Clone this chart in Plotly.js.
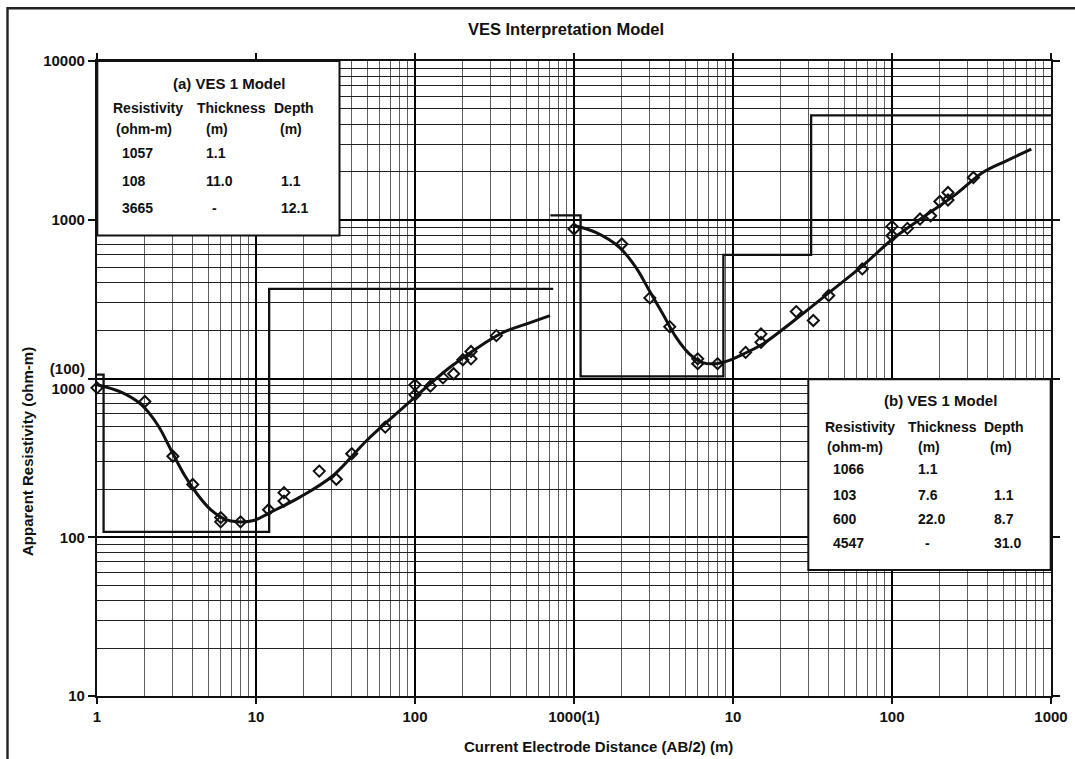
<!DOCTYPE html>
<html>
<head>
<meta charset="utf-8">
<script src="https://cdn.plot.ly/plotly-3.0.1.min.js"></script>
<style>
html,body{margin:0;padding:0;background:#fff;}
#chart{width:1075px;height:759px;}
</style>
</head>
<body>
<div id="chart"></div>
<script>
// ---------------- Data ----------------
// Axis tick labels (composite of two panels)
const xTickVals = [1, 10, 100, 1000, 10000, 100000, 1000000];
const xTickText = ['1', '10', '100', '1000(1)', '10', '100', '1000'];
const yTickVals = [10, 100, 1000, 10000, 100000];
const yTickText = ['10', '100', '(100)<br>1000', '1000', '10000'];

// (a) VES 1 - field data (AB/2 in m, apparent resistivity in ohm-m)
const abA  = [1, 2, 3, 4, 6, 6, 8, 12, 15, 15, 25, 32, 40, 65, 100, 100, 125, 150, 175, 200, 225, 225, 325];
const rhoA = [873, 716, 324, 215, 133, 125, 125, 149, 191, 169, 261, 232, 336, 494, 912, 789, 895, 1009, 1072, 1313, 1479, 1330, 1862];
// (a) fitted curve
const curveAx = [1, 1.42, 1.9, 2.42, 2.93, 3.56, 4.32, 5.23, 6.36, 7.7, 9.81, 11.9, 18.9, 30.6, 49.7, 80.5, 102.5, 166, 269, 359, 504, 706];
const curveAy = [915, 820, 684, 506, 352, 245, 184, 148, 130, 125, 128, 141, 179, 245, 407, 629, 781, 1178, 1652, 1954, 2209, 2489];
// (a) layered model
const modelAres = [1057, 108, 3665];
const modelAbound = [1.1, 12.1];
const modelAstart = 1, modelAend = 740;
const tableAres = ['1057', '108', '3665'];
const tableAthk = ['1.1', '11.0', '-'];
const tableAdep = ['', '1.1', '12.1'];

// (b) VES 1 - field data
const abB  = [1, 2, 3, 4, 6, 6, 8, 12, 15, 15, 25, 32, 40, 65, 100, 100, 125, 150, 175, 200, 225, 225, 325];
const rhoB = [874, 703, 322, 212, 133, 124, 124, 146, 191, 169, 264, 232, 333, 490, 908, 793, 882, 1010, 1059, 1303, 1485, 1331, 1846];
// (b) fitted curve
const curveBx = [1, 1.37, 1.93, 2.45, 2.98, 3.62, 4.38, 5.31, 6.44, 7.82, 9.48, 11.5, 15.4, 24.9, 40.4, 65.5, 101, 156, 253, 372, 524, 752];
const curveBy = [920, 832, 670, 501, 357, 255, 182, 143, 126, 124, 130, 142, 165, 237, 349, 514, 756, 1034, 1451, 1984, 2350, 2785];
// (b) layered model
const modelBres = [1066, 103, 600, 4547];
const modelBbound = [1.1, 8.7, 31.0];
const modelBstart = 0.71, modelBend = 1000;
const tableBres = ['1066', '103', '600', '4547'];
const tableBthk = ['1.1', '7.6', '22.0', '-'];
const tableBdep = ['', '1.1', '8.7', '31.0'];

// ---------------- Helpers ----------------
function stepLine(res, bounds, start, end) {
  const xs = [start], ys = [res[0]];
  for (let i = 0; i < bounds.length; i++) {
    xs.push(bounds[i], bounds[i]);
    ys.push(res[i], res[i + 1]);
  }
  xs.push(end); ys.push(res[res.length - 1]);
  return {x: xs, y: ys};
}
function minorVals(lo, hi) {
  const v = [];
  for (let k = lo; k < hi; k++) for (let d = 2; d <= 9; d++) v.push(d * Math.pow(10, k));
  return v;
}

const FONT = 'Liberation Sans, Arial, sans-serif';
const INK = '#111';
// plot area in pixels: x 97..1051, y 61..696
const PX = px => (px - 97) / 954;
const PY = py => (696 - py) / 635;

function txt(text, px, py, size) {
  return {text: text, x: PX(px), y: PY(py), xref: 'paper', yref: 'paper',
          xanchor: 'left', yanchor: 'middle', showarrow: false,
          font: {family: FONT, size: size, color: INK, weight: 'bold'}};
}

const stepA = stepLine(modelAres, modelAbound, modelAstart, modelAend);
const stepB = stepLine(modelBres, modelBbound, modelBstart, modelBend);

const traces = [
  {x: stepA.x, y: stepA.y, xaxis: 'x', yaxis: 'y', mode: 'lines',
   line: {color: INK, width: 2.3}, hoverinfo: 'skip'},
  {x: curveAx, y: curveAy, xaxis: 'x', yaxis: 'y', mode: 'lines',
   line: {color: INK, width: 3, shape: 'spline', smoothing: 1}},
  {x: abA, y: rhoA, xaxis: 'x', yaxis: 'y', mode: 'markers', cliponaxis: false,
   marker: {symbol: 'diamond-open', size: 8.5, color: INK, line: {width: 2, color: INK}}},
  {x: stepB.x, y: stepB.y, xaxis: 'x2', yaxis: 'y2', mode: 'lines',
   line: {color: INK, width: 2.3}, hoverinfo: 'skip'},
  {x: curveBx, y: curveBy, xaxis: 'x2', yaxis: 'y2', mode: 'lines',
   line: {color: INK, width: 3, shape: 'spline', smoothing: 1}},
  {x: abB, y: rhoB, xaxis: 'x2', yaxis: 'y2', mode: 'markers', cliponaxis: false,
   marker: {symbol: 'diamond-open', size: 8.5, color: INK, line: {width: 2, color: INK}}}
];

// ---------------- Annotations ----------------
const ann = [];
// Axis titles
ann.push({text: 'Current Electrode Distance (AB/2) (m)', x: PX(598), y: PY(746),
          xref: 'paper', yref: 'paper', xanchor: 'center', yanchor: 'middle', showarrow: false,
          font: {family: FONT, size: 15, color: INK, weight: 'bold'}});
ann.push({text: 'Apparent Resistivity (ohm-m)', x: PX(27), y: PY(452), textangle: -90,
          xref: 'paper', yref: 'paper', xanchor: 'center', yanchor: 'middle', showarrow: false,
          font: {family: FONT, size: 15, color: INK, weight: 'bold'}});

// Table (a)
ann.push(txt('(a) VES 1 Model', 171, 83, 15));
ann.push(txt('Resistivity', 111, 108, 14));
ann.push(txt('Thickness', 195, 108, 14));
ann.push(txt('Depth', 272, 108, 14));
ann.push(txt('(ohm-m)', 114, 129, 14));
ann.push(txt('(m)', 204, 129, 14));
ann.push(txt('(m)', 278, 129, 14));
const rowsA = [153, 181, 208];
for (let i = 0; i < tableAres.length; i++) {
  ann.push(txt(tableAres[i], 120, rowsA[i], 14));
  ann.push(txt(tableAthk[i], tableAthk[i] === '-' ? 210 : 204, rowsA[i], 14));
  if (tableAdep[i]) ann.push(txt(tableAdep[i], 279, rowsA[i], 14));
}

// Table (b)
ann.push(txt('(b) VES 1 Model', 882, 401, 15));
ann.push(txt('Resistivity', 823, 427, 14));
ann.push(txt('Thickness', 906, 427, 14));
ann.push(txt('Depth', 982, 427, 14));
ann.push(txt('(ohm-m)', 825, 447, 14));
ann.push(txt('(m)', 916, 447, 14));
ann.push(txt('(m)', 988, 447, 14));
const rowsB = [469, 495, 519, 543];
for (let i = 0; i < tableBres.length; i++) {
  ann.push(txt(tableBres[i], 831, rowsB[i], 14));
  ann.push(txt(tableBthk[i], tableBthk[i] === '-' ? 923 : 916, rowsB[i], 14));
  if (tableBdep[i]) ann.push(txt(tableBdep[i], 992, rowsB[i], 14));
}

// ---------------- Layout ----------------
const tickFont = {family: FONT, size: 15, color: INK, weight: 'bold'};
const layout = {
  width: 1075, height: 759, autosize: false,
  margin: {l: 97, r: 24, t: 61, b: 63, pad: 0},
  paper_bgcolor: '#fff', plot_bgcolor: '#fff',
  showlegend: false,
  title: {text: 'VES Interpretation Model', x: 566 / 1075, xanchor: 'center',
          y: 1 - 29 / 759, yanchor: 'middle', xref: 'container', yref: 'container',
          font: {family: FONT, size: 16.5, color: INK, weight: 'bold'}},
  xaxis: {
    type: 'log', range: [0, 6], tickmode: 'array', tickvals: xTickVals, ticktext: xTickText,
    tickfont: tickFont, ticks: 'outside', ticklen: 6, tickwidth: 1.6, tickcolor: INK,
    showline: true, linecolor: INK, linewidth: 2.2, mirror: 'ticks',
    showgrid: true, gridcolor: '#000', gridwidth: 1.9, zeroline: false,
    minor: {tickmode: 'array', tickvals: minorVals(0, 6), showgrid: true,
            gridcolor: '#5e5e5e', gridwidth: 1.2, ticks: ''}
  },
  yaxis: {
    type: 'log', range: [1, 5], tickmode: 'array', tickvals: yTickVals, ticktext: yTickText,
    tickfont: tickFont, ticks: 'outside', ticklen: 7, tickwidth: 1.6, tickcolor: INK,
    showline: true, linecolor: INK, linewidth: 2.2, mirror: 'ticks',
    showgrid: true, gridcolor: '#000', gridwidth: 1.9, zeroline: false,
    minor: {tickmode: 'array', tickvals: minorVals(1, 5), showgrid: true,
            gridcolor: '#222', gridwidth: 1.2, ticks: ''}
  },
  xaxis2: {type: 'log', range: [-3, 3], overlaying: 'x', anchor: 'y2', visible: false},
  yaxis2: {type: 'log', range: [0, 4], overlaying: 'y', anchor: 'x2', visible: false},
  shapes: [
    {type: 'rect', xref: 'paper', yref: 'paper', x0: PX(97.3), x1: PX(339.5), y0: PY(235.5), y1: PY(61),
     line: {color: INK, width: 2}, fillcolor: '#fff', layer: 'above'},
    {type: 'rect', xref: 'paper', yref: 'paper', x0: PX(808.3), x1: PX(1050.7), y0: PY(570), y1: PY(379.3),
     line: {color: INK, width: 2}, fillcolor: '#fff', layer: 'above'},
    {type: 'rect', xref: 'paper', yref: 'paper', x0: PX(7.5), x1: PX(1082), y0: PY(766), y1: PY(8.3),
     line: {color: '#222', width: 2.4}, fillcolor: 'rgba(0,0,0,0)', layer: 'above'}
  ],
  annotations: ann
};

Plotly.newPlot('chart', traces, layout, {displayModeBar: false, responsive: false});
</script>
</body>
</html>
